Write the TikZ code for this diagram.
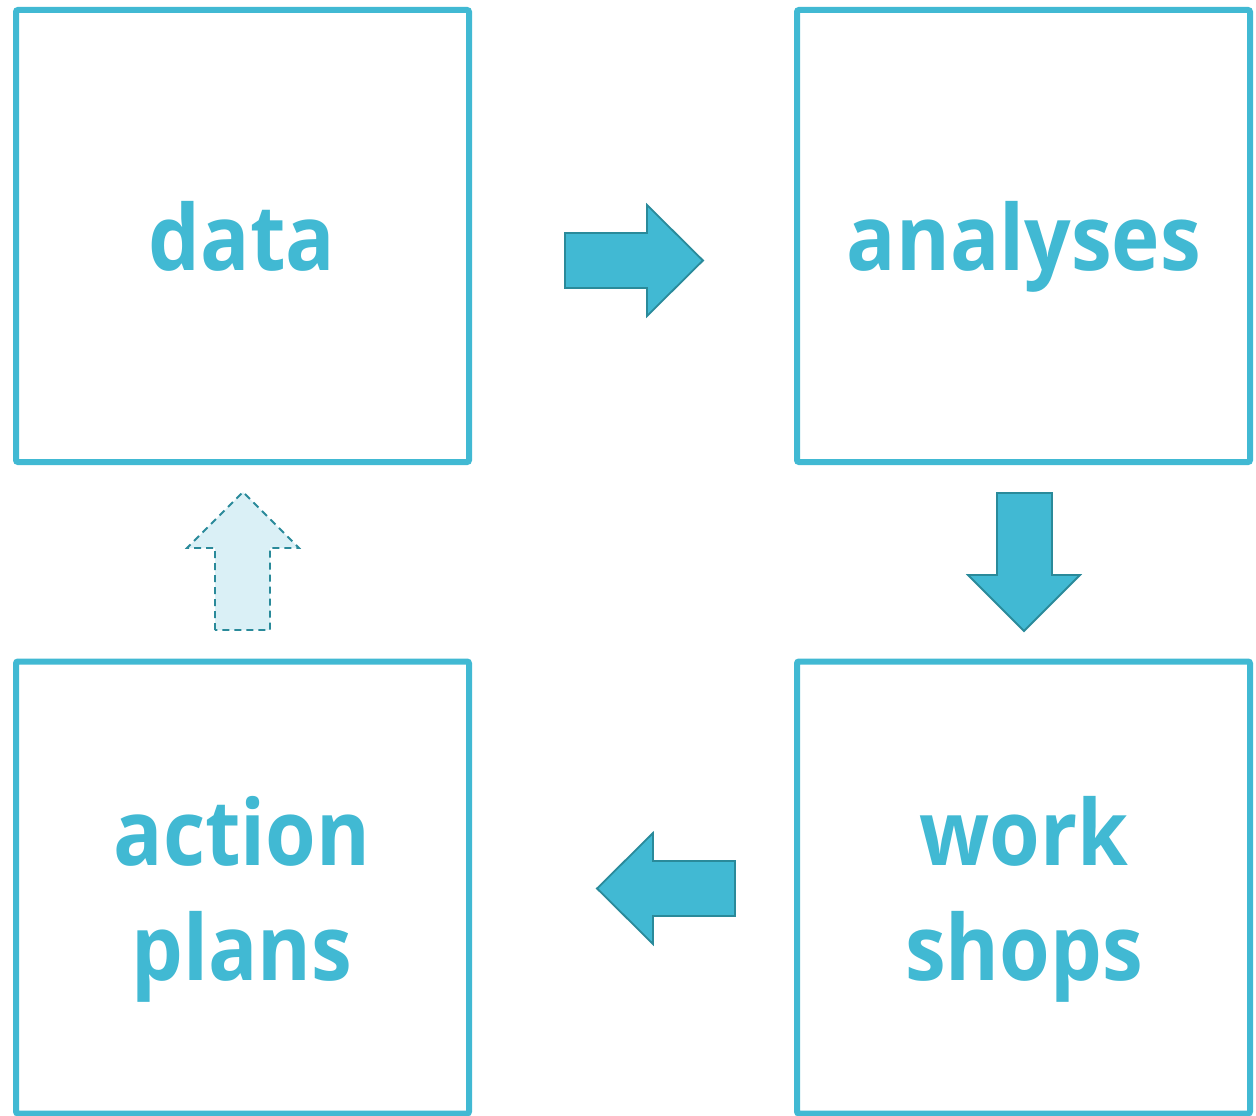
\documentclass[tikz,border=0pt]{standalone}
\usepackage{fontspec}
\setmainfont{Open Sans}
\newfontfamily\lblfont[FakeStretch=0.9]{Open Sans}
\definecolor{cyanmain}{HTML}{41B9D3}
\definecolor{darkteal}{HTML}{2A8A9A}
\definecolor{lightcyan}{HTML}{DAF0F6}
\begin{document}
\begin{tikzpicture}[x=1pt,y=-1pt,
  box/.style={draw=cyanmain,line width=6pt,rounded corners=2pt,fill=white,minimum width=453pt,minimum height=452pt,inner sep=0pt},
  lbl/.style={text=cyanmain,font=\lblfont\fontsize{91}{91}\selectfont\bfseries,anchor=base,inner sep=0pt},
  blockarrow/.style={fill=cyanmain,draw=darkteal,line width=1.8pt,line join=miter},
  ghostarrow/.style={fill=lightcyan,draw=darkteal,line width=1.8pt,dashed,dash pattern=on 7pt off 5pt}]
\useasboundingbox (0,0) rectangle (1256,1116);
\node[box] (data) at (242.5,236) {};
\node[box] (analyses) at (1023.5,236) {};
\node[box] (workshops) at (1023.5,887.5) {};
\node[box] (actionplans) at (242.5,887.5) {};
\node[lbl] (tdata) at (242,270) {data};
\node[lbl] (tanalyses) at (1024,270) {analyses};
\node[lbl] (twork) at (1024,865) {work};
\node[lbl] (tshops) at (1024,980) {shops};
\node[lbl] (taction) at (242,865) {action};
\node[lbl] (tplans) at (242,980) {plans};
% right arrow
\draw[blockarrow] (565,233) -- (647,233) -- (647,205) -- (703,260.5) -- (647,316) -- (647,288) -- (565,288) -- cycle;
% down arrow
\draw[blockarrow] (997,493) -- (1052,493) -- (1052,575) -- (1080,575) -- (1024,631) -- (968,575) -- (997,575) -- cycle;
% left arrow
\draw[blockarrow] (735,861) -- (653,861) -- (653,833) -- (597,888.5) -- (653,944) -- (653,916) -- (735,916) -- cycle;
% up arrow (dashed)
\draw[ghostarrow] (215,630) -- (215,548) -- (187,548) -- (243,492) -- (299,548) -- (270,548) -- (270,630) -- cycle;
\end{tikzpicture}
\end{document}
